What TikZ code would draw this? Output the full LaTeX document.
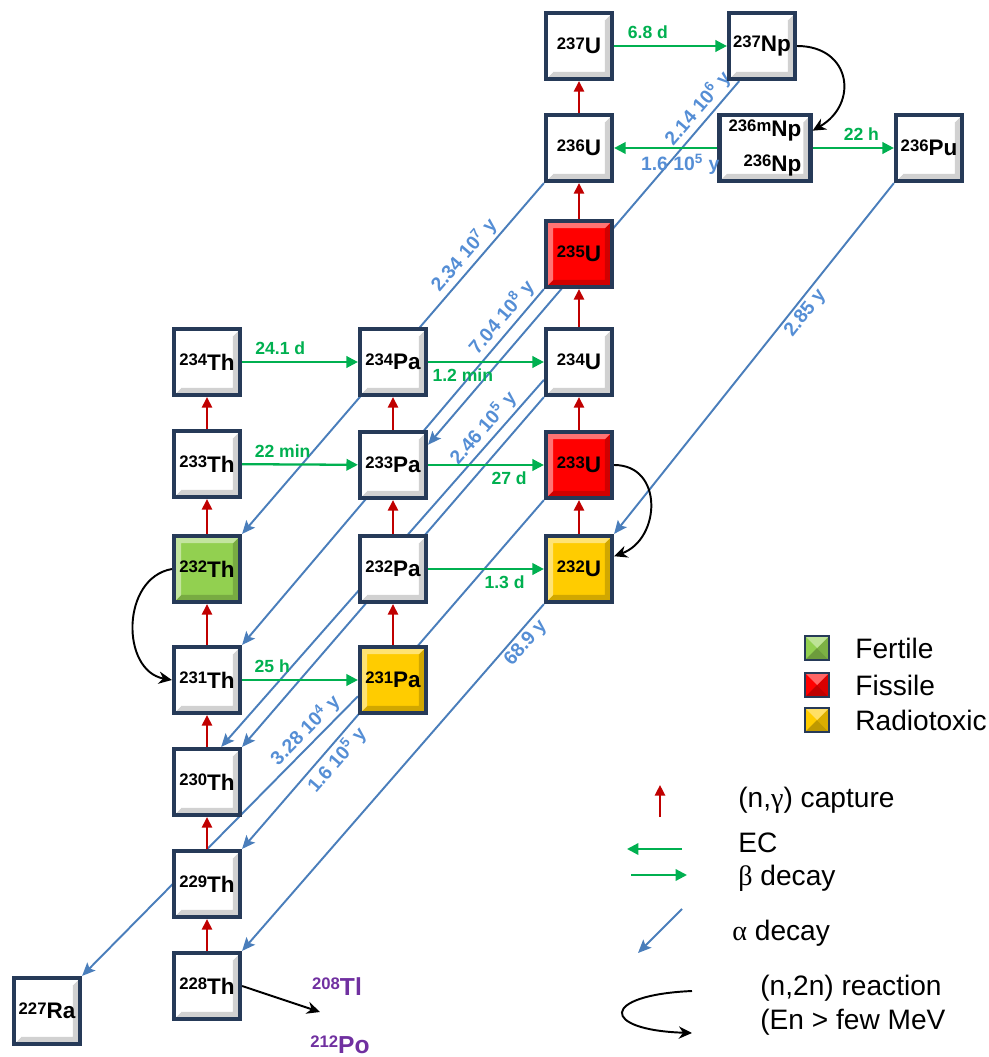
\documentclass[tikz,border=0pt]{standalone}
\usepackage{fontspec}
\setmainfont{Liberation Sans}
\newfontfamily\grk{Liberation Serif}
\usepackage{tikz}
\usetikzlibrary{arrows.meta, backgrounds}
\definecolor{boxedge}{RGB}{38,58,88}
\definecolor{fertcol}{HTML}{92D050}
\definecolor{fisscol}{HTML}{FF0000}
\definecolor{toxcol}{HTML}{FFCC00}
\definecolor{capred}{HTML}{C00000}
\definecolor{betagreen}{HTML}{00B050}
\definecolor{alphablue}{HTML}{4A7EBB}
\definecolor{lblblue}{HTML}{558ED5}
\definecolor{purp}{HTML}{7030A0}
\newcommand{\nucl}[3][2.4pt]{\raisebox{#1}{\fontsize{9.5}{9.5}\selectfont #2}#3}
\tikzset{nuc/.style={draw=boxedge, line width=2.4pt, fill=#1, minimum size=1.32cm, inner sep=0pt,
  font=\fontsize{12.8}{14}\selectfont\bfseries,
  path picture={
    \fill[#1!82!black] (path picture bounding box.south west) -- (path picture bounding box.south east) -- (path picture bounding box.north east) -- ([shift={(-4pt,-4pt)}]path picture bounding box.north east) -- ([shift={(-4pt,4pt)}]path picture bounding box.south east) -- ([shift={(4pt,4pt)}]path picture bounding box.south west) -- cycle;
    \fill[#1!55!white] (path picture bounding box.south west) -- (path picture bounding box.north west) -- (path picture bounding box.north east) -- ([shift={(-4pt,-4pt)}]path picture bounding box.north east) -- ([shift={(4pt,-4pt)}]path picture bounding box.north west) -- ([shift={(4pt,4pt)}]path picture bounding box.south west) -- cycle;
  }}, nuc/.default=white}
\tikzset{keybox/.style={draw=boxedge, line width=1.5pt, fill=#1, minimum size=0.48cm, inner sep=0pt,
  path picture={
    \fill[#1!75!black] (path picture bounding box.south west) -- (path picture bounding box.south east) -- (path picture bounding box.center) -- cycle;
    \fill[#1!85!black] (path picture bounding box.south east) -- (path picture bounding box.north east) -- (path picture bounding box.center) -- cycle;
    \fill[#1!60!white] (path picture bounding box.north west) -- (path picture bounding box.north east) -- (path picture bounding box.center) -- cycle;
  }}}
\tikzstyle{capture}=[draw=capred, line width=1.2pt, -{Triangle[width=5.8pt,length=6pt]}]
\tikzstyle{betadec}=[draw=betagreen, line width=1.3pt, -{Triangle[width=6.5pt,length=6.5pt]}]
\tikzstyle{alphadec}=[draw=alphablue, line width=1.1pt, -{Stealth[width=6.5pt,length=7.5pt,inset=1.5pt]}]
\tikzstyle{nnreact}=[draw=black, line width=1.1pt, -{Stealth[width=7pt,length=7.5pt]}]
\tikzstyle{glbl}=[text=betagreen, font=\fontsize{10}{12}\selectfont\bfseries]
\tikzstyle{albl}=[text=lblblue, font=\fontsize{11}{12}\selectfont\bfseries, inner sep=1.5pt]
\tikzstyle{purpnuc}=[text=purp, font=\fontsize{14}{16}\selectfont\bfseries]
\tikzstyle{keytxt}=[font=\fontsize{16}{19.4}\selectfont, anchor=west, inner sep=0pt]

\begin{document}
\begin{tikzpicture}[x=0.02cm, y=-0.02cm]
\useasboundingbox (0,0) rectangle (989,1057);
\node[nuc] (U237) at (579,46) {\nucl{237}U};
\node[nuc] (Np237) at (762,46) {\nucl{237}Np};
\node[nuc] (U236) at (579,148) {\nucl{236}U};
\node[nuc, minimum width=1.82cm, align=right, font=\fontsize{12.8}{20}\selectfont\bfseries] (Np236) at (765,148) {\nucl{236m}Np\\\nucl{236}Np};
\node[nuc] (Pu236) at (929,148) {\nucl{236}Pu};
\node[nuc=fisscol] (U235) at (579,254) {\nucl{235}U};
\node[nuc] (Th234) at (207,362) {\nucl{234}Th};
\node[nuc] (Pa234) at (393,362) {\nucl{234}Pa};
\node[nuc] (U234) at (579,362) {\nucl{234}U};
\node[nuc] (Th233) at (207,464) {\nucl{233}Th};
\node[nuc] (Pa233) at (393,465) {\nucl{233}Pa};
\node[nuc=fisscol] (U233) at (579,465) {\nucl{233}U};
\node[nuc=fertcol] (Th232) at (207,569) {\nucl{232}Th};
\node[nuc] (Pa232) at (393,569) {\nucl{232}Pa};
\node[nuc=toxcol] (U232) at (579,569) {\nucl{232}U};
\node[nuc] (Th231) at (207,680) {\nucl{231}Th};
\node[nuc=toxcol] (Pa231) at (393,680) {\nucl{231}Pa};
\node[nuc] (Th230) at (207,782) {\nucl{230}Th};
\node[nuc] (Th229) at (207,884) {\nucl{229}Th};
\node[nuc] (Th228) at (207,986) {\nucl{228}Th};
\node[nuc] (Ra227) at (47,1011) {\nucl{227}Ra};
\node[purpnuc] (Tl208) at (337,987) {\nucl[3.4pt]{208}Tl};
\node[purpnuc] (Po212) at (340,1045) {\nucl[3.4pt]{212}Po};
% alpha decays, behind the boxes
\begin{scope}[on background layer]
\draw[alphadec] (U236.south west) -- node[albl, sloped, above, pos=.23] {2.34 10\textsuperscript{7} y} (Th232.north east);
\draw[alphadec] (Np237.237) -- node[albl, sloped, above, pos=.10] {2.14 10\textsuperscript{6} y} (Pa233.30);
\draw[alphadec] (U235.south west) -- node[albl, sloped, above, pos=.105] {7.04 10\textsuperscript{8} y} (Th231.north east);
\draw[alphadec] (U234.207) -- node[albl, sloped, above, pos=.156] {2.46 10\textsuperscript{5} y} (Th230.68);
\draw[alphadec] (U234.south west) -- (Th230.north east);
\draw[alphadec] (U233.south west) -- node[albl, sloped, below, pos=.72] {1.6 10\textsuperscript{5} y} (Th229.north east);
\draw[alphadec] (Pa231.205) -- node[albl, sloped, above, pos=.155] {3.28 10\textsuperscript{4} y} (Ra227.north east);
\draw[alphadec] (U232.south west) -- node[albl, sloped, below, pos=.09] {68.9 y} (Th228.north east);
\draw[alphadec] (Pu236.south west) -- node[albl, sloped, below, pos=.35] {2.85 y} (U232.north east);
\end{scope}
% captures
\draw[capture] (U236) -- (U237);
\draw[capture] (U235) -- (U236);
\draw[capture] (U234) -- (U235);
\draw[capture] (U233) -- (U234);
\draw[capture] (U232) -- (U233);
\draw[capture] (Th233) -- (Th234);
\draw[capture] (Th232) -- (Th233);
\draw[capture] (Th231) -- (Th232);
\draw[capture] (Th230) -- (Th231);
\draw[capture] (Th229) -- (Th230);
\draw[capture] (Th228) -- (Th229);
\draw[capture] (Pa233) -- (Pa234);
\draw[capture] (Pa232) -- (Pa233);
\draw[capture] (Pa231) -- (Pa232);
% beta decays and EC
\draw[betadec] (U237) -- node[glbl, above, pos=.30] {6.8 d} (Np237);
\draw[betadec] (Np236) -- node[glbl, above, pos=.6] {22 h} (Pu236);
\draw[betadec] (Np236) -- node[albl, below, pos=.36, inner sep=3pt] {1.6 10\textsuperscript{5} y} (U236);
\draw[betadec] (Th234) -- node[glbl, above, pos=.33] {24.1 d} (Pa234);
\draw[betadec] (Pa234) -- node[glbl, below, pos=.30] {1.2 min} (U234);
\draw[betadec] (Th233) -- node[glbl, above, pos=.35] {22 min} (Pa233);
\draw[betadec] (Pa233) -- node[glbl, below, pos=.70] {27 d} (U233);
\draw[betadec] (Pa232) -- node[glbl, below, pos=.66] {1.3 d} (U232);
\draw[betadec] (Th231) -- node[glbl, above, pos=.26] {25 h} (Pa231);
% (n,2n)
\draw[nnreact] (Np237.east) to[out=0, in=30, looseness=1.6] (Np236.20);
\draw[nnreact] (U233.east) to[out=0, in=20, looseness=1.4] (U232.20);
\draw[nnreact] (Th232.west) to[out=190, in=170, looseness=1.2] (Th231.west);
\coordinate (dk) at (320,1012);
\draw[nnreact] (Th228.east) -- (dk);
% legend
\node[keybox=fertcol] (kFert) at (817,648) {};
\node[keybox=fisscol] (kFiss) at (817,685) {};
\node[keybox=toxcol] (kTox) at (817,720) {};
\node[keytxt] (tFert) at (855,648) {Fertile};
\node[keytxt] (tFiss) at (855,685) {Fissile};
\node[keytxt] (tTox) at (855,720) {Radiotoxic};
\coordinate (capA) at (660,817);
\coordinate (capB) at (660,785);
\draw[capture] (capA) -- (capB);
\coordinate (ecA) at (682,849);
\coordinate (ecB) at (627,849);
\draw[betadec] (ecA) -- (ecB);
\coordinate (btA) at (631,875);
\coordinate (btB) at (687,875);
\draw[betadec] (btA) -- (btB);
\coordinate (alA) at (682,909);
\coordinate (alB) at (638,953);
\draw[alphadec] (alA) -- (alB);
\coordinate (nnA) at (692,991);
\coordinate (nnB) at (692,1033);
\draw[nnreact] (nnA) .. controls (600,995) and (600,1030) .. (nnB);
\node[keytxt] (tCap) at (738,800) {(n,{\grk γ}) capture};
\node[keytxt] (tEC) at (738,843) {EC};
\node[keytxt] (tBeta) at (738,878) {{\grk β} decay};
\node[keytxt] (tAlpha) at (732,933) {{\grk α} decay};
\node[keytxt, align=left] (tNN) at (760,1005) {(n,2n) reaction\\(En > few MeV};
\end{tikzpicture}
\end{document}
